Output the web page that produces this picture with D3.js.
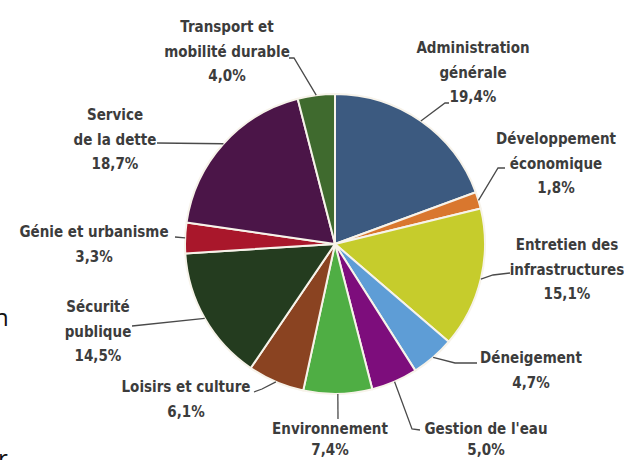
<!DOCTYPE html>
<html><head><meta charset="utf-8">
<script src="https://cdn.jsdelivr.net/npm/d3@7/dist/d3.min.js"></script>
<style>
html,body{margin:0;padding:0;background:#fff;}
svg{display:block;}
.lbl{font-family:"Liberation Sans Narrow","DejaVu Sans Condensed","Roboto",sans-serif;font-weight:bold;font-size:15px;fill:#3c3c3c;}
</style></head><body>
<svg id="c" width="624" height="460"></svg>
<script>
const categories = ["Administration générale","Développement économique","Entretien des infrastructures","Déneigement","Gestion de l'eau","Environnement","Loisirs et culture","Sécurité publique","Génie et urbanisme","Service de la dette","Transport et mobilité durable"];
const values = [19.4,1.8,15.1,4.7,5.0,7.4,6.1,14.5,3.3,18.7,4.0];
const valueLabels = ["19,4%","1,8%","15,1%","4,7%","5,0%","7,4%","6,1%","14,5%","3,3%","18,7%","4,0%"];
const colors = ["#3c5a80","#d9772e","#c6cc2c","#5e9dd6","#7d0d7c","#4fae44","#8a4321","#243c1f","#a9172b","#4b1548","#3f6a2e"];

// layout of labels (centre x, first-line centre y, line gap, line breaks) and leader bends
const layout = [
  {x:473,y:48,gap:24.5,lines:["Administration","générale"],lead:[[445,103],[449,103]]},
  {x:556,y:139,gap:24.5,lines:["Développement","économique"],lead:[[498,168],[505,168]]},
  {x:567,y:245,gap:24.5,lines:["Entretien des","infrastructures"],lead:[[493,275],[510,273]]},
  {x:531,y:358,gap:24.5,lines:["Déneigement"],lead:[[455,363],[477,363]]},
  {x:486,y:429,gap:21,lines:["Gestion de l'eau"],lead:[[412,429],[420,430]]},
  {x:330,y:429,gap:21,lines:["Environnement"],lead:[[338,419]]},
  {x:186,y:387,gap:24.5,lines:["Loisirs et culture"],lead:[[262,389],[254,392]]},
  {x:98,y:307,gap:24.5,lines:["Sécurité","publique"],lead:[[132,326]]},
  {x:94,y:232,gap:24.5,lines:["Génie et urbanisme"],lead:[[175,237]]},
  {x:115,y:115,gap:24.5,lines:["Service","de la dette"],lead:[[157,143]]},
  {x:227,y:27,gap:24.5,lines:["Transport et","mobilité durable"],lead:[[294,58],[289,58]]}
];

const svg = d3.select("#c");
const cx = 335, cy = 244, R = 150;
const g = svg.append("g").attr("transform",`translate(${cx},${cy})`);

const pie = d3.pie().sort(null).value(d=>d)(values);
const arc = d3.arc().innerRadius(0).outerRadius(R);
g.selectAll("path.s").data(pie).join("path")
  .attr("class","s")
  .attr("d",arc)
  .attr("fill",(d,i)=>colors[i])
  .attr("stroke","#f7f3ea")
  .attr("stroke-width",2)
  .attr("stroke-linejoin","round");

const edge = d3.arc().innerRadius(R).outerRadius(R);
const line = d3.line().curve(d3.curveLinear);
pie.forEach((d,i)=>{
  const c = edge.centroid(d);
  const pts = [[c[0]+cx,c[1]+cy]].concat(layout[i].lead);
  svg.append("path").attr("d",line(pts)).attr("fill","none")
    .attr("stroke","#4a4a4a").attr("stroke-width",1.3);
});

layout.forEach((L,i)=>{
  const lines = L.lines.concat([valueLabels[i]]);
  const t = svg.append("text").attr("class","lbl").attr("text-anchor","middle");
  lines.forEach((s,k)=>{
    t.append("tspan").attr("x",L.x).attr("y",L.y+k*L.gap).attr("dy","0.35em").text(s);
  });
});

// cut-off fragments of neighbouring text at the left edge
svg.append("text").attr("x",-6).attr("y",326).attr("font-family","Open Sans, sans-serif").attr("font-size",24).attr("fill","#111").text("n");
svg.append("text").attr("x",-2).attr("y",467).attr("font-family","Open Sans, sans-serif").attr("font-size",24).attr("fill","#111").text("r");
</script>
</body></html>
